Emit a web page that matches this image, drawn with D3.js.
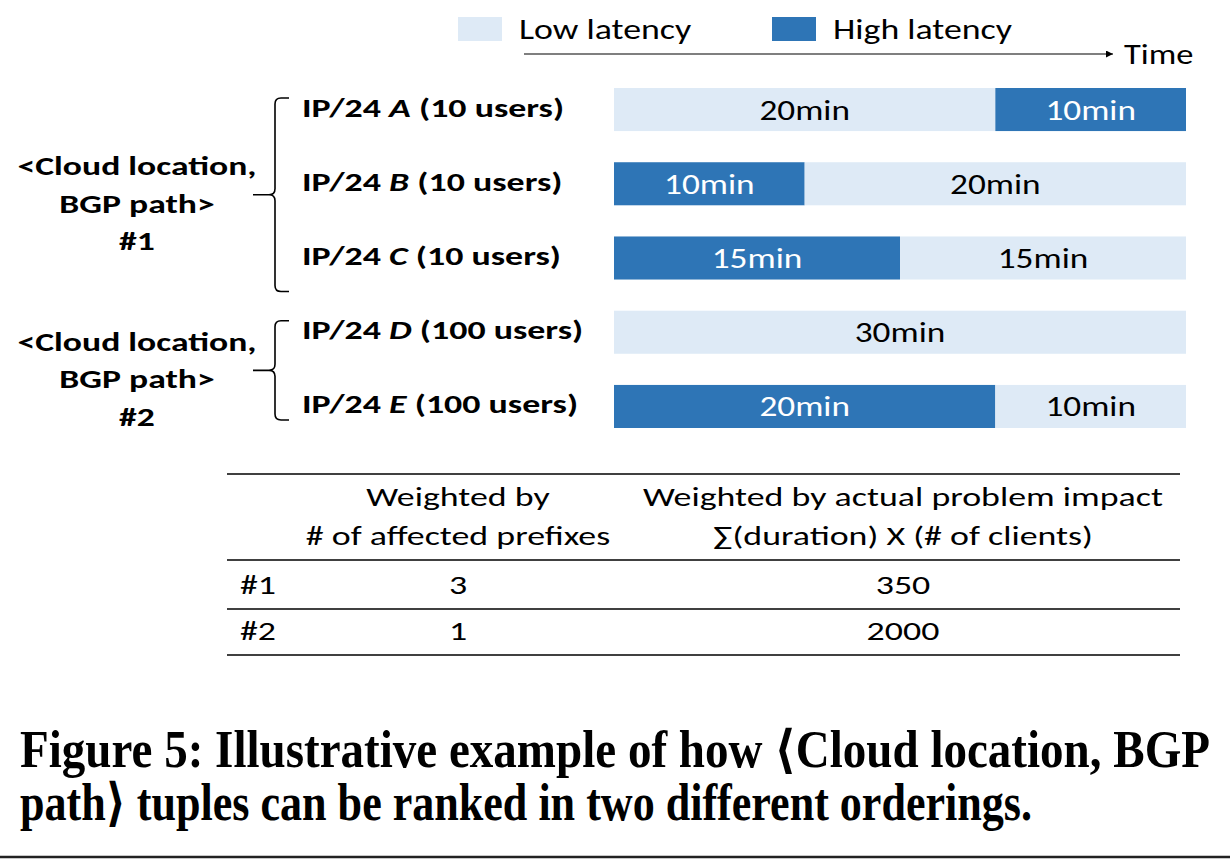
<!DOCTYPE html>
<html><head><meta charset="utf-8">
<script src="https://cdn.jsdelivr.net/npm/d3@7"></script>
<style>
html,body{margin:0;padding:0;background:#fff;}
svg{display:block;}
</style></head>
<body>
<svg id="chart" width="1230" height="861"></svg>
<script>
// ---- data ----
const prefixes = ["A", "B", "C", "D", "E"];
const users = [10, 10, 10, 100, 100];
const firstState = ["low", "high", "high", "low", "high"];
const firstDur = [20, 10, 15, 30, 20];
const secondDur = [10, 20, 15, 0, 10];
const totalMinutes = 30;
const groupNames = ["#1", "#2"];
const groupMembers = [["A", "B", "C"], ["D", "E"]];
const legendLabels = ["Low latency", "High latency"];
const tableHeader1 = ["Weighted by", "# of affected prefixes"];
const tableHeader2 = ["Weighted by actual problem impact", "\u2211(duration) X (# of clients)"];
const tableRows = ["#1", "#2"];
const prefixCounts = [3, 1];
const impactScores = [350, 2000];
const captionLines = [
  "Figure 5: Illustrative example of how \u27E8Cloud location, BGP",
  "path\u27E9 tuples can be ranked in two different orderings."
];

// ---- styles ----
const LIGHT = "#DEEAF6", DARK = "#2E75B6";
const SANS = "Carlito, Lato, 'Open Sans', sans-serif";
const SERIF = "'Liberation Serif', 'DejaVu Serif', serif";

const svg = d3.select("#chart");

// text helper: horizontally stretched sans text anchored at (tx, ty)
function stext(parent, tx, ty, sx, size, opts = {}) {
  const t = parent.append("text")
    .attr("transform", `translate(${tx},${ty}) scale(${sx},1)`)
    .attr("font-family", SANS).attr("font-size", size)
    .attr("text-anchor", opts.anchor || "start")
    .attr("font-weight", opts.weight || "normal")
    .attr("fill", opts.fill || "#000");
  if (opts.text !== undefined) t.text(opts.text);
  return t;
}

// scales
const x = d3.scaleLinear().domain([0, totalMinutes]).range([614, 1186]);
const y = d3.scaleBand().domain(prefixes).range([88, 428]).paddingInner(0.42).paddingOuter(0);
const color = d3.scaleOrdinal().domain(["low", "high"]).range([LIGHT, DARK]);
const textColor = d3.scaleOrdinal().domain(["low", "high"]).range(["#000", "#fff"]);

// legend
const legend = svg.append("g");
const legX = d3.scalePoint().domain(["low", "high"]).range([458, 772]);
["low", "high"].forEach((k, i) => {
  legend.append("rect").attr("x", legX(k)).attr("y", 17).attr("width", 44).attr("height", 24).attr("fill", color(k));
  stext(legend, legX(k) + 61, 39, 1.28, 28, {text: legendLabels[i]});
});

// time arrow
svg.append("defs").append("marker").attr("id", "arr").attr("viewBox", "0 0 10 10").attr("refX", 10).attr("refY", 5)
  .attr("markerWidth", 7).attr("markerHeight", 7).attr("markerUnits", "userSpaceOnUse").attr("orient", "auto")
  .append("path").attr("d", "M0,0L10,5L0,10Z").attr("fill", "#000");
svg.append("line").attr("x1", 524).attr("x2", 1113).attr("y1", 54).attr("y2", 54)
  .attr("stroke", "#000").attr("stroke-width", 1.2).attr("marker-end", "url(#arr)");
stext(svg, 1124, 64, 1.23, 28, {text: "Time"});

// bars
const rows = prefixes.map((p, i) => {
  const s1 = firstState[i], s2 = s1 === "low" ? "high" : "low";
  const segs = [{state: s1, start: 0, dur: firstDur[i]}];
  if (secondDur[i] > 0) segs.push({state: s2, start: firstDur[i], dur: secondDur[i]});
  return {p, users: users[i], segs};
});
const bw = y.bandwidth();
const rowG = svg.selectAll("g.row").data(rows).join("g").attr("class", "row")
  .attr("transform", d => `translate(0,${y(d.p)})`);
rowG.selectAll("rect").data(d => d.segs).join("rect")
  .attr("x", d => x(d.start)).attr("width", d => x(d.start + d.dur) - x(d.start))
  .attr("y", 0).attr("height", bw).attr("fill", d => color(d.state));
rowG.each(function(d) {
  const g = d3.select(this);
  d.segs.forEach(s => {
    stext(g, (x(s.start) + x(s.start + s.dur)) / 2, bw / 2 + 10, 1.26, 28,
      {anchor: "middle", fill: textColor(s.state), text: s.dur + "min"});
  });
  // row label
  const lab = stext(g, 302, bw / 2 + 7, 1.33, 27, {weight: "bold"});
  lab.append("tspan").text("IP/24 ");
  lab.append("tspan").attr("font-style", "italic").text(d.p);
  lab.append("tspan").text(` (${d.users} users)`);
});

// braces + group labels
const braceBottomOffset = [12, -8];
groupMembers.forEach((mem, gi) => {
  const top = y(mem[0]) + 10;
  const bot = y(mem[mem.length - 1]) + bw + braceBottomOffset[gi];
  const mid = (top + bot) / 2;
  const bx = 275, r = 6;
  const path = `M${bx + 14},${top} L${bx + r},${top} Q${bx},${top} ${bx},${top + r} L${bx},${mid - r} Q${bx},${mid} ${bx - r},${mid} L${bx - 22},${mid}` +
    ` M${bx - r},${mid} Q${bx},${mid} ${bx},${mid + r} L${bx},${bot - r} Q${bx},${bot} ${bx + r},${bot} L${bx + 14},${bot}`;
  svg.append("path").attr("d", path).attr("fill", "none").attr("stroke", "#000").attr("stroke-width", 1.6);
  const lines = ["<Cloud location,", "BGP path>", groupNames[gi]];
  lines.forEach((l, li) => {
    stext(svg, 137, mid + 18 + (li - 1) * 37.5, 1.32, 27, {anchor: "middle", weight: "bold", text: l});
  });
});

// table
const tbl = svg.append("g");
const colX = d3.scaleOrdinal().domain(["name", "count", "impact"]).range([240, 458, 903]);
const ruleY = [474, 560, 609, 655];
ruleY.forEach(ry => tbl.append("line").attr("x1", 227).attr("x2", 1180).attr("y1", ry).attr("y2", ry)
  .attr("stroke", "#000").attr("stroke-width", 1.5));
[tableHeader1, tableHeader2].forEach((h, ci) => {
  h.forEach((line, li) => {
    stext(tbl, colX(ci === 0 ? "count" : "impact"), 506 + li * 39, 1.33, 27, {anchor: "middle", text: line});
  });
});
const rowY = d3.scalePoint().domain(tableRows).range([594, 640]);
tableRows.forEach((r, i) => {
  stext(tbl, colX("name"), rowY(r), 1.33, 27, {text: r});
  stext(tbl, colX("count"), rowY(r), 1.33, 27, {anchor: "middle", text: prefixCounts[i]});
  stext(tbl, colX("impact"), rowY(r), 1.33, 27, {anchor: "middle", text: impactScores[i]});
});

// caption
const capLen = [1190, 1012];
captionLines.forEach((c, i) => {
  svg.append("text").attr("x", 20).attr("y", 767 + i * 53).attr("font-family", SERIF).attr("font-weight", "bold")
    .attr("font-size", 52).attr("textLength", capLen[i]).attr("lengthAdjust", "spacingAndGlyphs").text(c);
});
svg.append("line").attr("x1", 0).attr("x2", 1230).attr("y1", 857).attr("y2", 857).attr("stroke", "#222").attr("stroke-width", 2.5);
</script>
</body></html>
